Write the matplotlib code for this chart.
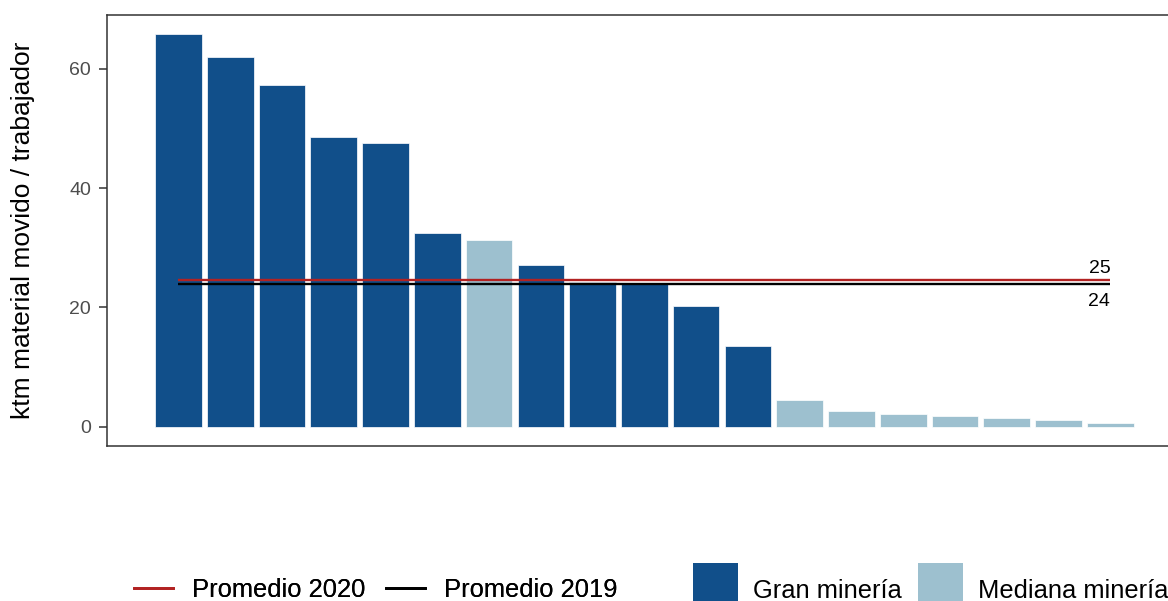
import numpy as np
import matplotlib.pyplot as plt
from matplotlib.lines import Line2D
from matplotlib.patches import Patch, Rectangle
from matplotlib.legend_handler import HandlerPatch

plt.rcParams["font.family"] = ["Liberation Sans", "DejaVu Sans"]

valores = [65.9, 62.0, 57.3, 48.6, 47.5, 32.4, 31.3, 27.1, 24.2, 23.9,
           20.2, 13.5, 4.5, 2.6, 2.2, 1.9, 1.5, 1.2, 0.7]
grupo = ["Gran", "Gran", "Gran", "Gran", "Gran", "Gran", "Mediana", "Gran", "Gran", "Gran",
         "Gran", "Gran", "Mediana", "Mediana", "Mediana", "Mediana", "Mediana", "Mediana", "Mediana"]
prom_2020 = 24.6
prom_2019 = 24.0
etiqueta_2020 = "25"
etiqueta_2019 = "24"

col_gran = "#114f8a"
col_mediana = "#9dc0cf"
col_2020 = "#b22222"
col_2019 = "#000000"


def cuadro(legend, orig_handle, xdescent, ydescent, width, height, fontsize):
    # cuadro de lado = ancho, centrado con el texto
    return Rectangle((-xdescent, -ydescent - 0.8), width, width)


fig = plt.figure(figsize=(11.68, 6.01), dpi=100)
ax = fig.add_axes([0.0912, 0.258, 0.921, 0.717])

x = np.arange(len(valores))
colores = [col_gran if g == "Gran" else col_mediana for g in grupo]
ax.bar(x, valores, width=0.9, color=colores, edgecolor="white", linewidth=0.5)

ax.hlines(prom_2020, x[0], x[-1], color=col_2020, linewidth=1.7, zorder=3)
ax.hlines(prom_2019, x[0], x[-1], color=col_2019, linewidth=1.7, zorder=3)
ax.text(x[-1], prom_2020 + 0.45, etiqueta_2020, ha="right", va="bottom", fontsize=14)
ax.text(x[-1], prom_2019 - 1.5, etiqueta_2019, ha="right", va="top", fontsize=14)

ax.set_xlim(-1.39, len(valores) - 1 + 1.39)
ax.set_ylim(-3.2, 69)
ax.set_yticks([0, 20, 40, 60])
ax.set_xticks([])
ax.tick_params(axis="y", colors="#333333", labelcolor="#4d4d4d", labelsize=14,
               length=5.5, width=1.1, pad=5.5)
for s in ax.spines.values():
    s.set_color("#333333")
    s.set_linewidth(1.1)
ax.set_ylabel("ktm material movido / trabajador", fontsize=19, labelpad=24.5)

lineas = [Line2D([0], [0], color=col_2020, linewidth=2),
          Line2D([0], [0], color=col_2019, linewidth=2)]
leg1 = fig.legend(lineas, ["Promedio 2020", "Promedio 2019"], ncol=2, frameon=False,
                  loc="center left", bbox_to_anchor=(0.1147, 0.019), fontsize=18.4,
                  handlelength=1.52, handletextpad=0.77, columnspacing=0.78, borderpad=0,
                  borderaxespad=0)
parches = [Patch(facecolor=col_gran), Patch(facecolor=col_mediana)]
leg2 = fig.legend(parches, ["Gran minería", "Mediana minería"], ncol=2, frameon=False,
                  loc="center left", bbox_to_anchor=(0.593, 0.019), fontsize=18.4,
                  handlelength=1.76, handleheight=1.76, handletextpad=0.6,
                  columnspacing=0.62, borderpad=0, borderaxespad=0,
                  handler_map={Patch: HandlerPatch(patch_func=cuadro)})
fig.add_artist(leg1)

fig.savefig("out.png", dpi=100)
